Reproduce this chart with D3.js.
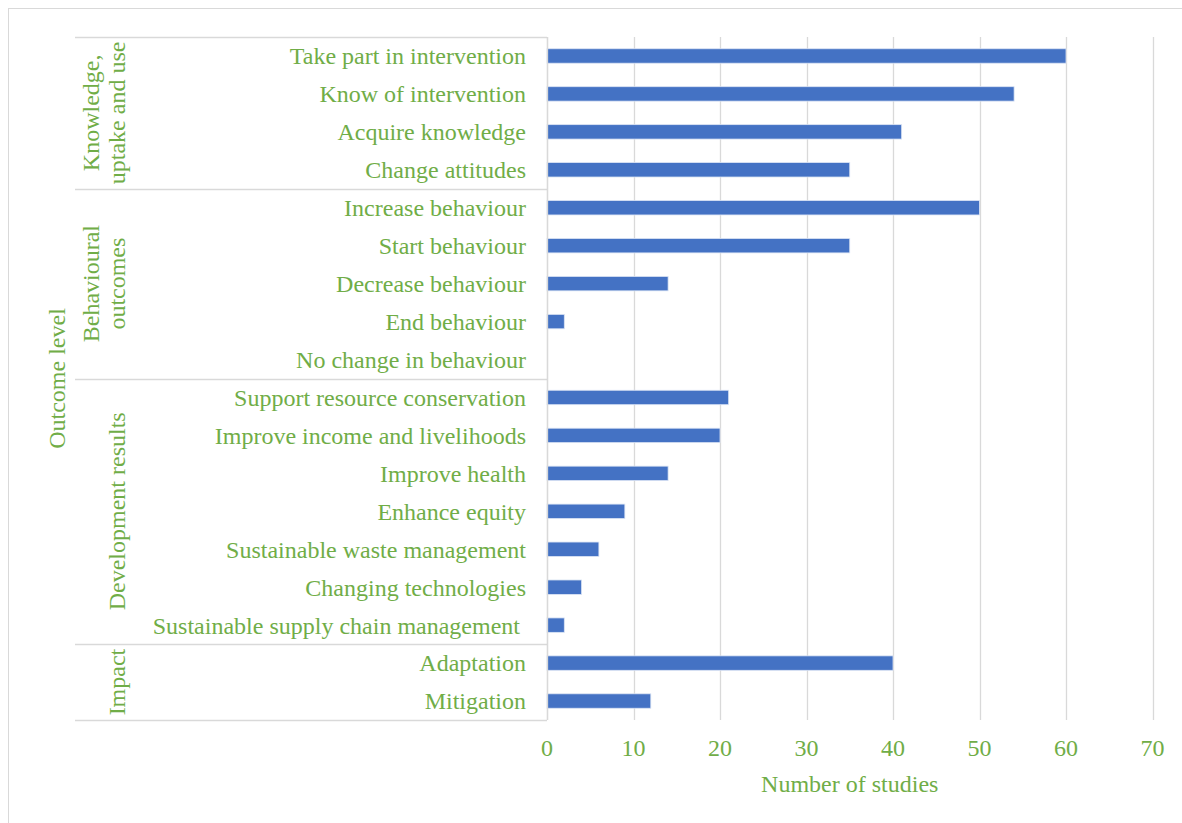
<!DOCTYPE html>
<html>
<head>
<meta charset="utf-8">
<script src="https://cdn.jsdelivr.net/npm/d3@7"></script>
<style>
  html, body { margin: 0; padding: 0; background: #fff; }
  svg { display: block; font-family: "Liberation Serif", "Times New Roman", serif; }
  text { white-space: pre; }
</style>
</head>
<body>
<svg id="chart" width="1182" height="823"></svg>
<script>
// Outcome categories, top to bottom
const categories = [
  "Take part in intervention",
  "Know of intervention",
  "Acquire knowledge",
  "Change attitudes",
  "Increase behaviour",
  "Start behaviour",
  "Decrease behaviour",
  "End behaviour",
  "No change in behaviour",
  "Support resource conservation",
  "Improve income and livelihoods",
  "Improve health",
  "Enhance equity",
  "Sustainable waste management",
  "Changing technologies",
  "Sustainable supply chain management ",
  "Adaptation",
  "Mitigation"
];

// Number of studies per outcome
const studies = [60, 54, 41, 35, 50, 35, 14, 2, 0, 21, 20, 14, 9, 6, 4, 2, 40, 12];

// Outcome-level groups (label lines and number of categories in each)
const groupLabels = [
  ["Knowledge,", "uptake and use"],
  ["Behavioural", "outcomes"],
  ["Development results"],
  ["Impact"]
];
const groupSizes = [4, 5, 7, 2];

const xTicks = [0, 10, 20, 30, 40, 50, 60, 70];
const xTitle = "Number of studies";
const yTitle = "Outcome level";

const green = "#70AD47";
const barColor = "#4472C4";
const gridColor = "#d9d9d9";
const fontSize = 24;

const svg = d3.select("#chart");

// Chart area border
svg.append("rect")
  .attr("x", 8.5).attr("y", 8.5)
  .attr("width", 1400).attr("height", 1000)
  .attr("fill", "none").attr("stroke", gridColor).attr("stroke-width", 1);

const plot = { left: 547, right: 1152.5, top: 37, bottom: 720 };

const x = d3.scaleLinear().domain([0, 70]).range([plot.left, plot.right]);
const y = d3.scaleBand().domain(categories)
  .range([plot.top, plot.bottom])
  .paddingInner(0.62).paddingOuter(0.31);

// Vertical gridlines
svg.append("g").selectAll("line").data(xTicks).join("line")
  .attr("x1", d => Math.round(x(d)) + 0.5).attr("x2", d => Math.round(x(d)) + 0.5)
  .attr("y1", plot.top).attr("y2", plot.bottom)
  .attr("stroke", gridColor).attr("stroke-width", 1.3);

// Bars
svg.append("g").selectAll("rect").data(categories).join("rect")
  .attr("x", x(0))
  .attr("y", d => y(d))
  .attr("width", (d, i) => x(studies[i]) - x(0))
  .attr("height", y.bandwidth())
  .attr("fill", barColor)
  .attr("stroke", "#dbe4f4").attr("stroke-width", 0.8)
  .attr("display", (d, i) => studies[i] > 0 ? null : "none");

// Category labels
svg.append("g").selectAll("text").data(categories).join("text")
  .attr("x", 526)
  .attr("y", d => y(d) + y.bandwidth() / 2)
  .attr("dy", "0.35em")
  .attr("text-anchor", "end")
  .attr("fill", green)
  .attr("font-size", fontSize)
  .text(d => d);

// Group separators and group labels
const step = y.step();
let start = 0;
const bounds = [0];
groupSizes.forEach(n => { start += n; bounds.push(start); });

svg.append("g").selectAll("line").data(bounds).join("line")
  .attr("x1", 75).attr("x2", plot.left)
  .attr("y1", d => Math.round(plot.top + d * step) + 0.5)
  .attr("y2", d => Math.round(plot.top + d * step) + 0.5)
  .attr("stroke", gridColor).attr("stroke-width", 1.3);

const gl = svg.append("g");
groupLabels.forEach((lines, gi) => {
  const cy = plot.top + (bounds[gi] + bounds[gi + 1]) / 2 * step;
  lines.forEach((ln, li) => {
    const cx = 117 - (lines.length - 1 - li) * 26;
    gl.append("text")
      .attr("transform", `translate(${cx},${cy}) rotate(-90)`)
      .attr("dy", "0.35em")
      .attr("text-anchor", "middle")
      .attr("fill", green)
      .attr("font-size", fontSize)
      .text(ln);
  });
});

// Vertical axis line
svg.append("line")
  .attr("x1", plot.left + 0.5).attr("x2", plot.left + 0.5)
  .attr("y1", plot.top).attr("y2", plot.bottom)
  .attr("stroke", gridColor).attr("stroke-width", 1.3);

// X tick labels
svg.append("g").selectAll("text").data(xTicks).join("text")
  .attr("x", d => x(d))
  .attr("y", 748)
  .attr("dy", "0.35em")
  .attr("text-anchor", "middle")
  .attr("fill", green)
  .attr("font-size", fontSize)
  .text(d => d);

// Axis titles
svg.append("text")
  .attr("x", (plot.left + plot.right) / 2)
  .attr("y", 784)
  .attr("dy", "0.35em")
  .attr("text-anchor", "middle")
  .attr("fill", green)
  .attr("font-size", fontSize)
  .text(xTitle);

svg.append("text")
  .attr("transform", `translate(57,${(plot.top + plot.bottom) / 2}) rotate(-90)`)
  .attr("dy", "0.35em")
  .attr("text-anchor", "middle")
  .attr("fill", green)
  .attr("font-size", fontSize)
  .text(yTitle);
</script>
</body>
</html>
